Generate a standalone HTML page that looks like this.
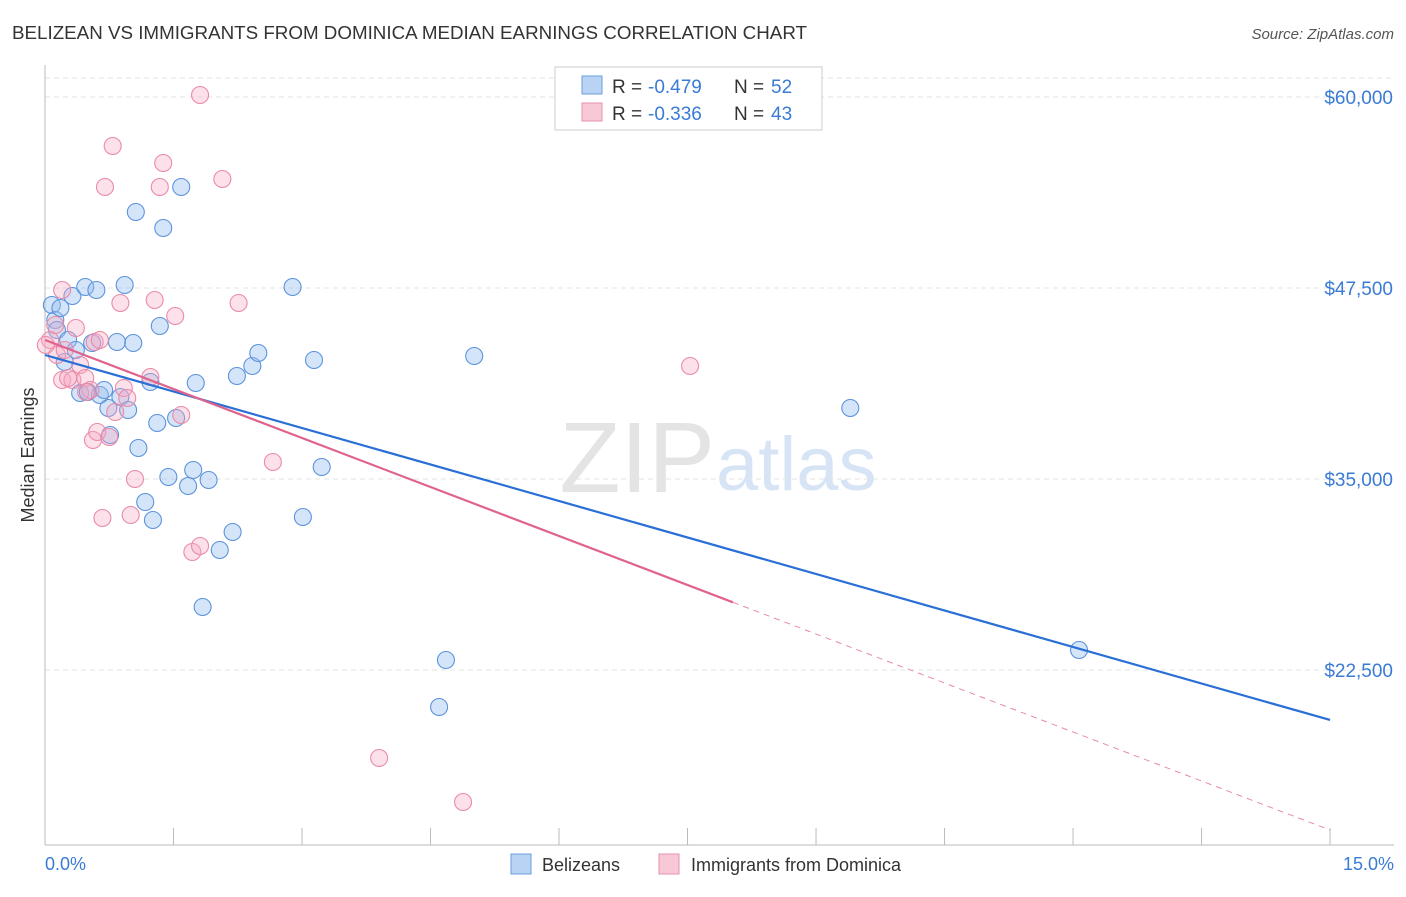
<!DOCTYPE html>
<html><head><meta charset="utf-8"><style>
body{margin:0;background:#fff;font-family:"Liberation Sans",sans-serif;}
svg text{font-family:"Liberation Sans",sans-serif;}
</style></head><body>
<svg width="1406" height="892">
<text x="12" y="39" font-size="18" fill="#333" textLength="795" lengthAdjust="spacingAndGlyphs">BELIZEAN VS IMMIGRANTS FROM DOMINICA MEDIAN EARNINGS CORRELATION CHART</text>
<text x="1394" y="39" font-size="15" fill="#555" font-style="italic" text-anchor="end">Source: ZipAtlas.com</text>
<text x="715" y="492" font-size="100" fill="#e4e4e4" text-anchor="end" font-family="Liberation Serif">ZIP</text>
<text x="716" y="490" font-size="76" fill="#d6e4f5">atlas</text>
<g id="grid"></g>
<g id="axes"></g>
<g id="pts"></g>
<g id="lines"></g>
<text transform="translate(34,455) rotate(-90)" font-size="18" fill="#333" text-anchor="middle">Median Earnings</text>
<text x="45" y="870" font-size="18" fill="#3a7bd5">0.0%</text>
<text x="1394" y="870" font-size="18" fill="#3a7bd5" text-anchor="end">15.0%</text>
<g>
<rect x="555" y="67" width="267" height="63" fill="#fff" stroke="#ccc"/>
<rect x="582" y="76" width="20" height="18" fill="#b9d3f5" stroke="#6a9ee0"/>
<rect x="582" y="103" width="20" height="18" fill="#f9c8d6" stroke="#e890aa"/>
<text x="612" y="93" font-size="19" fill="#333">R =</text>
<text x="648" y="93" font-size="19" fill="#3a7bd5">-0.479</text>
<text x="734" y="93" font-size="19" fill="#333">N =</text>
<text x="771" y="93" font-size="19" fill="#3a7bd5">52</text>
<text x="612" y="120" font-size="19" fill="#333">R =</text>
<text x="648" y="120" font-size="19" fill="#3a7bd5">-0.336</text>
<text x="734" y="120" font-size="19" fill="#333">N =</text>
<text x="771" y="120" font-size="19" fill="#3a7bd5">43</text>
</g>
<g>
<rect x="511" y="854" width="20" height="20" fill="#b9d3f5" stroke="#6a9ee0"/>
<text x="542" y="871" font-size="18" fill="#333">Belizeans</text>
<rect x="659" y="854" width="20" height="20" fill="#f9c8d6" stroke="#e890aa"/>
<text x="691" y="871" font-size="18" fill="#333">Immigrants from Dominica</text>
</g>
</svg>
<script>
const yTicks=[22500,35000,47500,60000];
const yTickLabels=["$22,500","$35,000","$47,500","$60,000"];
const blueX=[.08,.12,.14,.18,.23,.27,.32,.36,.41,.47,.50,.55,.60,.64,.69,.74,.76,.84,.88,.93,.97,1.03,1.06,1.09,1.17,1.23,1.26,1.31,1.34,1.38,1.44,1.53,1.59,1.67,1.73,1.76,1.84,1.91,2.04,2.19,2.24,2.42,2.49,2.89,3.01,3.14,3.23,4.60,4.68,5.01,9.40,12.07];
const blueY=[46386,45405,44750,46190,42656,44096,46975,43441,40627,47564,40692,43899,47368,40496,40823,39645,37878,43965,40365,47695,39514,43899,52473,37027,33493,41347,32315,38663,45012,51426,35129,38991,54109,34540,35587,41281,26620,34933,30351,31529,41739,42394,43245,47564,32511,42787,35783,20075,23152,43048,39645,23806];
const pinkX=[.06,.12,.14,.20,.23,.20,.32,.36,.41,.47,.53,.58,.56,.61,.67,.70,.75,.79,.82,.88,.92,.96,1.00,1.05,1.23,1.28,1.34,1.38,1.52,1.59,1.72,1.81,1.81,2.07,2.26,2.66,3.90,4.88,7.53,.01,.64,.27,.48];
const pinkY=[44096,45077,43114,47368,43441,41478,41478,44881,42459,41609,40823,43965,37551,38074,32446,54109,37747,56793,39383,46517,40954,40300,32642,34998,41674,46714,54109,55680,45666,39187,30220,60131,30613,54633,46517,36111,16738,13858,42394,43768,44096,41609,40692];
const blueTrend=[43114,19225];
const pinkTrend=[44096,12025];
const pinkSolidEnd=8.03;
const NS='http://www.w3.org/2000/svg';
const X=v=>45+v*85.67;
const Y=v=>97+(60000-v)/65.45;
function mk(t,a,p){const e=document.createElementNS(NS,t);for(const k in a)e.setAttribute(k,a[k]);p.appendChild(e);return e;}
const grid=document.getElementById('grid'),axes=document.getElementById('axes'),pts=document.getElementById('pts'),lines=document.getElementById('lines');
const gtop=mk('line',{x1:45,x2:1394,y1:78,y2:78,stroke:'#e3e3e3','stroke-dasharray':'5,4'},grid);


yTicks.forEach((t,i)=>{
const l=mk('line',{x1:45,x2:1394,y1:Y(t),y2:Y(t),stroke:'#e3e3e3','stroke-dasharray':'5,4'},grid);


const tx=mk('text',{x:1393,y:Y(t)+7,'font-size':19,fill:'#3a7bd5','text-anchor':'end'},axes);
tx.textContent=yTickLabels[i];


});
const ax=mk('line',{x1:45,x2:1394,y1:845,y2:845,stroke:'#bbb'},axes);


const ay=mk('line',{x1:45,x2:45,y1:65,y2:845,stroke:'#bbb'},axes);


for(let i=0;i<=10;i++){const t=mk('line',{x1:X(i*1.5),x2:X(i*1.5),y1:828,y2:845,stroke:'#bbb'},axes);

}
blueX.forEach((v,i)=>{const c=mk('circle',{cx:X(v),cy:Y(blueY[i]),r:8.5,fill:'rgba(150,190,240,0.4)',stroke:'#5b93dc','stroke-width':1.1},pts);

});
pinkX.forEach((v,i)=>{const c=mk('circle',{cx:X(v),cy:Y(pinkY[i]),r:8.5,fill:'rgba(245,170,195,0.35)',stroke:'#e98aa8','stroke-width':1.1},pts);

});
const bl=mk('line',{x1:X(0),y1:Y(blueTrend[0]),x2:X(15),y2:Y(blueTrend[1]),stroke:'#2a6fd6','stroke-width':2.2},lines);


const pv=x=>pinkTrend[0]+(pinkTrend[1]-pinkTrend[0])*x/15;
const pl=mk('line',{x1:X(0),y1:Y(pinkTrend[0]),x2:X(pinkSolidEnd),y2:Y(pv(pinkSolidEnd)),stroke:'#e0638c','stroke-width':2.2},lines);


const pd=mk('line',{x1:X(pinkSolidEnd),y1:Y(pv(pinkSolidEnd)),x2:X(15),y2:Y(pinkTrend[1]),stroke:'#e88aa8','stroke-width':1,'stroke-dasharray':'6,5'},lines);


</script>
</body></html>
